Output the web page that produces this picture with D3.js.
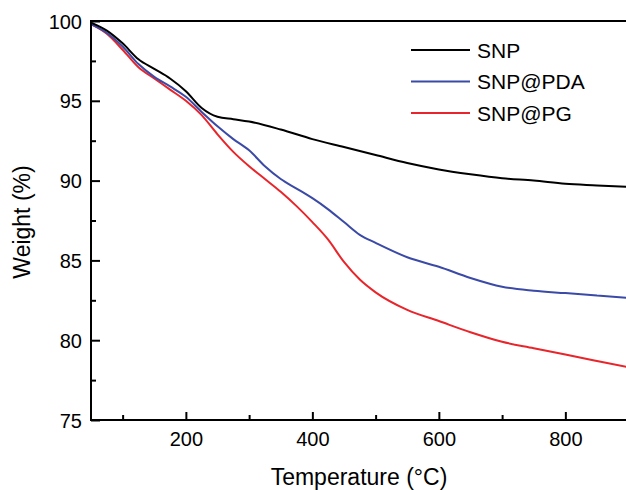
<!DOCTYPE html>
<html><head><meta charset="utf-8">
<script src="https://cdn.jsdelivr.net/npm/d3@7"></script>
<style>body{margin:0;background:#fff}svg{display:block}text{font-family:"Liberation Sans",Arial,sans-serif;fill:#000}</style>
</head><body><svg id="c" width="626" height="490"></svg>
<script>
const seriesNames = ["SNP", "SNP@PDA", "SNP@PG"];
const seriesColors = ["#000000", "#3a4aa6", "#e8252b"];
const tempSNP = [50,75,100,125,150,175,200,225,250,275,300,350,400,450,500,550,600,650,700,750,800,850,900];
const wSNP    = [99.9,99.4,98.6,97.6,97.0,96.4,95.6,94.55,94.0,93.85,93.7,93.2,92.6,92.1,91.6,91.1,90.7,90.4,90.15,90.0,89.8,89.7,89.6];
const tempPDA = [50,75,100,125,150,175,200,225,250,275,300,325,350,375,400,425,450,475,500,550,600,650,700,750,800,850,900];
const wPDA    = [99.8,99.25,98.4,97.3,96.5,95.9,95.25,94.3,93.4,92.6,91.9,90.9,90.1,89.5,88.9,88.2,87.4,86.6,86.1,85.2,84.6,83.9,83.35,83.1,82.95,82.8,82.65];
const tempPG  = [50,75,100,125,150,175,200,225,250,275,300,325,350,375,400,425,450,475,500,550,600,650,700,750,800,850,900];
const wPG     = [99.8,99.2,98.2,97.1,96.4,95.7,95.0,94.1,92.9,91.8,90.9,90.1,89.3,88.4,87.4,86.3,84.9,83.8,83.0,81.9,81.2,80.5,79.9,79.5,79.1,78.7,78.3];
const xTicks = [200,400,600,800];
const xMinor = [100,300,500,700];
const yTicks = [75,80,85,90,95,100];
const yMinor = [77.5,82.5,87.5,92.5,97.5];

const series = [
  {name: seriesNames[0], color: seriesColors[0], t: tempSNP, w: wSNP},
  {name: seriesNames[1], color: seriesColors[1], t: tempPDA, w: wPDA},
  {name: seriesNames[2], color: seriesColors[2], t: tempPG, w: wPG}
];

const svg = d3.select("#c");
const L = 91, R = 628.6, T = 21, B = 420;
const x = d3.scaleLinear().domain([50, 900]).range([L, R]);
const y = d3.scaleLinear().domain([75, 100]).range([B, T]);

svg.append("defs").append("clipPath").attr("id","pc").append("rect")
  .attr("x", L).attr("y", T - 2).attr("width", R - L).attr("height", B - T + 4);

const line = d3.line().curve(d3.curveMonotoneX).x(d => x(d[0])).y(d => y(d[1]));
const g = svg.append("g").attr("clip-path","url(#pc)");
series.slice().reverse().forEach(s => {
  g.append("path").datum(s.t.map((t,i)=>[t, s.w[i]]))
    .attr("d", line).attr("fill","none").attr("stroke", s.color)
    .attr("stroke-width", 2).attr("stroke-linejoin","round");
});

// axes
const xAxis = svg.append("g").attr("transform",`translate(0,${B})`)
  .call(d3.axisBottom(x).tickValues(xTicks).tickSize(-8).tickPadding(20).tickFormat(d3.format("d")));
svg.append("g").attr("transform",`translate(0,${B})`)
  .call(d3.axisBottom(x).tickValues(xMinor).tickSize(-5).tickFormat(""));
const yAxis = svg.append("g").attr("transform",`translate(${L},0)`)
  .call(d3.axisLeft(y).tickValues(yTicks).tickSize(-9).tickPadding(18).tickFormat(d3.format("d")));
svg.append("g").attr("transform",`translate(${L},0)`)
  .call(d3.axisLeft(y).tickValues(yMinor).tickSize(-5).tickFormat(""));
svg.selectAll(".domain").remove();
svg.selectAll(".tick line").attr("stroke","#000").attr("stroke-width",2);
svg.selectAll(".tick text").attr("font-size","20px").attr("font-family","'Liberation Sans',Arial,sans-serif").attr("fill","#000");
xAxis.selectAll(".tick text").attr("dy","0.71em").attr("y", 12);
yAxis.selectAll(".tick text").attr("x", -9).attr("dy","0.35em");

// frame
svg.append("path").attr("d",`M${L},${B}H626M${L},${B+1}V${T}H626`).attr("fill","none").attr("stroke","#000").attr("stroke-width",2);

// titles
svg.append("text").attr("x", 359).attr("y", 485).attr("text-anchor","middle").attr("font-size","23px").text("Temperature (°C)");
svg.append("text").attr("transform","translate(30,222) rotate(-90)").attr("text-anchor","middle").attr("font-size","23px").text("Weight (%)");

// legend
const lg = svg.append("g");
series.forEach((s,i) => {
  const yy = 50 + i*31.5;
  lg.append("line").attr("x1",411).attr("x2",470).attr("y1",yy).attr("y2",yy).attr("stroke",s.color).attr("stroke-width",2);
  lg.append("text").attr("x",477).attr("y",yy+7.5).attr("font-size","21px").text(s.name);
});
</script></body></html>
